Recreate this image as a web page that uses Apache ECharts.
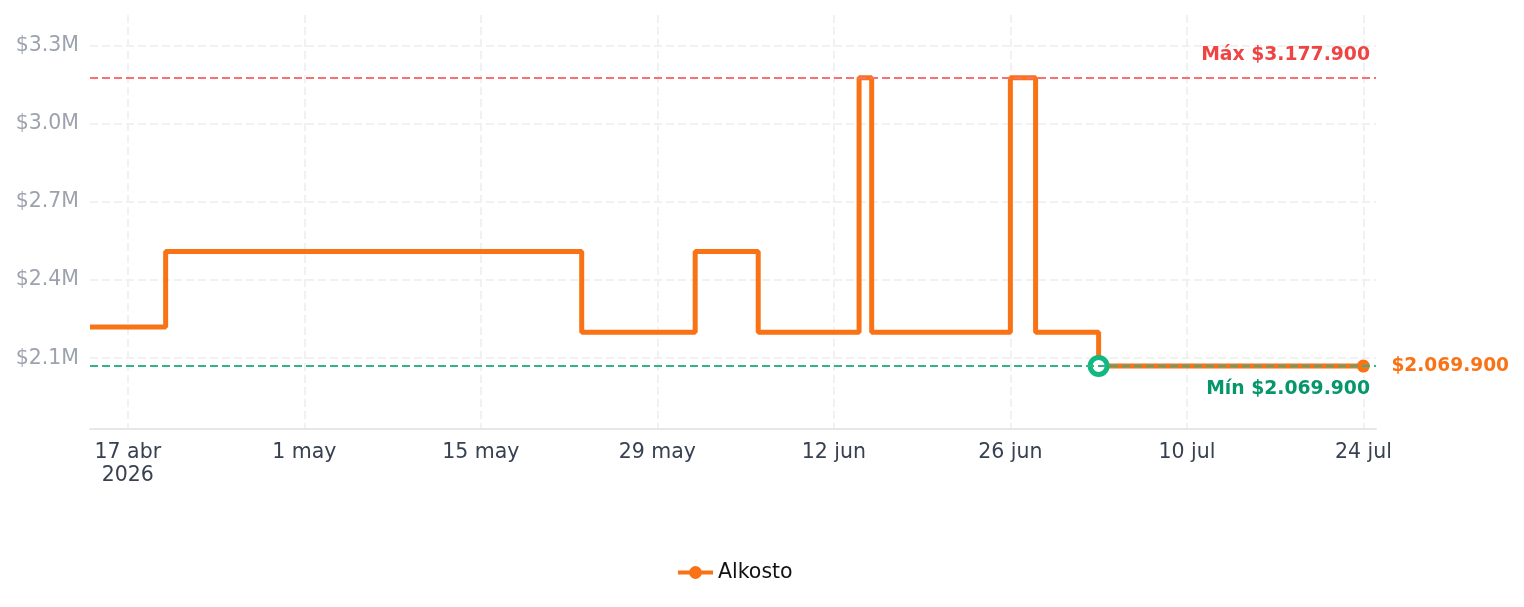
<!DOCTYPE html>
<html>
<head>
<meta charset="utf-8">
<script src="https://cdn.jsdelivr.net/npm/echarts@6/dist/echarts.min.js"></script>
<style>
  html, body { margin: 0; padding: 0; background: #fff; }
  #main { width: 1524px; height: 607px; }
</style>
</head>
<body>
<div id="main"></div>
<script>
// fechas de cambio de precio y precios (Alkosto)
var fechas = ['2026-04-14', '2026-04-20', '2026-05-23', '2026-06-01', '2026-06-06', '2026-06-14',
              '2026-06-15', '2026-06-26', '2026-06-28', '2026-07-03', '2026-07-24'];
var precios = [2219900, 2509900, 2199900, 2509900, 2199900, 3177900,
               2199900, 3177900, 2199900, 2069900, 2069900];
var ticksY = [2100000, 2400000, 2700000, 3000000, 3300000];
var ticksX = ['2026-04-17', '2026-05-01', '2026-05-15', '2026-05-29', '2026-06-12', '2026-06-26', '2026-07-10', '2026-07-24'];
var meses = ['ene', 'feb', 'mar', 'abr', 'may', 'jun', 'jul', 'ago', 'sep', 'oct', 'nov', 'dic'];

function toTime(s) {
    var p = s.split('-');
    return new Date(+p[0], +p[1] - 1, +p[2]).getTime();
}

function pesos(v) {
    return '$' + String(v).replace(/\B(?=(\d{3})+(?!\d))/g, '.');
}

var maxPrecio = Math.max.apply(null, precios);
var minPrecio = Math.min.apply(null, precios);
var idxMin = precios.indexOf(minPrecio);

var datos = [];
for (var i = 0; i < fechas.length; i++) {
    var item = { value: [toTime(fechas[i]), precios[i]] };
    if (i === idxMin) {
        item.symbolSize = 17;
        item.itemStyle = { color: '#ffffff', borderColor: '#10b981', borderWidth: 5 };
    } else if (i === fechas.length - 1) {
        item.symbolSize = 13;
    }
    datos.push(item);
}

var primerTick = toTime(ticksX[0]);

var myChart = echarts.init(document.getElementById('main'));
var option = {
    animation: false,
    textStyle: { fontFamily: 'DejaVu Sans' },
    grid: { left: 90, right: 148, top: 15, bottom: 178 },
    legend: {
        bottom: 19,
        left: 671,
        itemWidth: 35,
        itemHeight: 16,
        itemGap: 10,
        lineStyle: { width: 4 },
        textStyle: { fontSize: 20.5, color: '#111' },
        data: ['Alkosto']
    },
    xAxis: {
        // eje de fechas como valor (timestamps) para fijar las marcas cada 14 días
        type: 'value',
        min: toTime('2026-04-14'),
        max: toTime('2026-07-25'),
        axisLine: { lineStyle: { color: '#e5e7eb', width: 2 } },
        axisTick: { show: false, customValues: ticksX.map(toTime) },
        axisLabel: {
            customValues: ticksX.map(toTime),
            fontSize: 20.5,
            color: '#374151',
            margin: 12,
            lineHeight: 23,
            formatter: function (val) {
                var d = new Date(val);
                var t = d.getDate() + ' ' + meses[d.getMonth()];
                if (val === primerTick) t += '\n' + d.getFullYear();
                return t;
            }
        },
        splitLine: { show: true, lineStyle: { color: '#f1f1f3', type: 'dashed', width: 2 } }
    },
    yAxis: {
        type: 'value',
        min: 1828000,
        max: 3419000,
        axisLine: { show: false },
        axisTick: { show: false, customValues: ticksY },
        axisLabel: {
            customValues: ticksY,
            fontSize: 20.5,
            color: '#9ca3af',
            margin: 11,
            formatter: function (v) { return '$' + (v / 1e6).toFixed(1) + 'M'; }
        },
        splitLine: { show: true, lineStyle: { color: '#f1f1f3', type: 'dashed', width: 2 } }
    },
    series: [{
        name: 'Alkosto',
        type: 'line',
        step: 'end',
        data: datos,
        symbol: 'circle',
        symbolSize: 0,
        showSymbol: true,
        color: '#f97316',
        lineStyle: { width: 5, color: '#f97316' },
        itemStyle: { color: '#f97316' },
        endLabel: {
            show: true,
            distance: 28,
            fontSize: 18.6,
            fontWeight: 'bold',
            color: '#f97316',
            formatter: function (p) { return pesos(p.value[1]); }
        },
        markLine: {
            silent: true,
            symbol: 'none',
            data: [
                {
                    yAxis: maxPrecio,
                    lineStyle: { color: '#f87171', type: 'dashed', width: 2 },
                    label: {
                        position: 'insideEndTop',
                        formatter: 'Máx ' + pesos(maxPrecio),
                        color: '#ef4444',
                        fontWeight: 'bold',
                        fontSize: 18.8,
                        distance: [6, 13]
                    }
                },
                {
                    yAxis: minPrecio,
                    lineStyle: { color: '#34b38a', type: 'dashed', width: 2 },
                    label: {
                        position: 'insideEndBottom',
                        formatter: 'Mín ' + pesos(minPrecio),
                        color: '#059669',
                        fontWeight: 'bold',
                        fontSize: 18.8,
                        distance: [6, 14]
                    }
                }
            ]
        }
    }]
};
myChart.setOption(option);
</script>
</body>
</html>
